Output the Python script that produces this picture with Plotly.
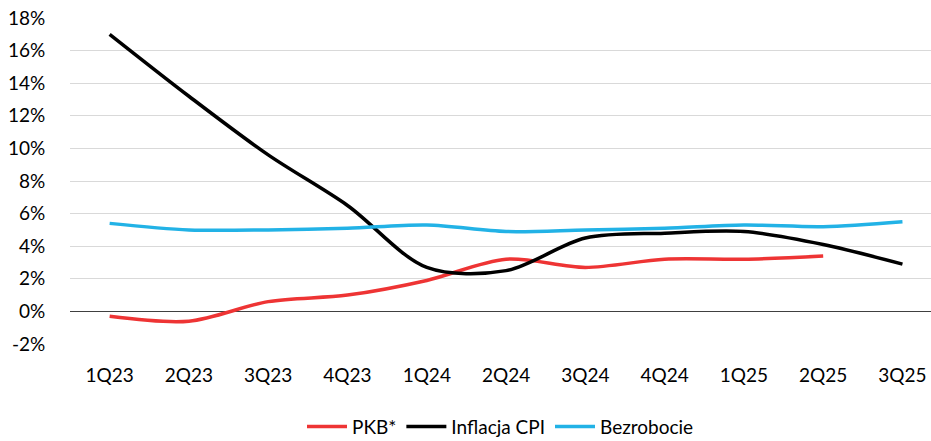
import plotly.graph_objects as go

categories = ["1Q23", "2Q23", "3Q23", "4Q23", "1Q24", "2Q24", "3Q24", "4Q24", "1Q25", "2Q25", "3Q25"]
pkb = [-0.3, -0.6, 0.6, 1.0, 1.9, 3.2, 2.7, 3.2, 3.2, 3.4, None]
inflacja = [17.0, 13.2, 9.6, 6.5, 2.7, 2.5, 4.5, 4.8, 4.9, 4.1, 2.9]
bezrobocie = [5.4, 5.0, 5.0, 5.1, 5.3, 4.9, 5.0, 5.1, 5.3, 5.2, 5.5]
y_ticks = [-2, 0, 2, 4, 6, 8, 10, 12, 14, 16, 18]
y_tick_labels = [f"{v}%" for v in y_ticks]

FONT = "Lato, 'Open Sans', sans-serif"

fig = go.Figure()
fig.add_trace(go.Scatter(x=categories, y=pkb, name="PKB*", mode="lines",
                         line=dict(color="#EE3434", width=3.5, shape="spline", smoothing=0.9)))
fig.add_trace(go.Scatter(x=categories, y=inflacja, name="Inflacja CPI", mode="lines",
                         line=dict(color="#000000", width=3.5, shape="spline", smoothing=0.9)))
fig.add_trace(go.Scatter(x=categories, y=bezrobocie, name="Bezrobocie", mode="lines",
                         line=dict(color="#22B2E6", width=3.5, shape="spline", smoothing=0.9)))

fig.update_layout(
    width=931, height=441,
    margin=dict(l=70, r=0, t=18, b=97, autoexpand=False),
    paper_bgcolor="white", plot_bgcolor="white",
    font=dict(family=FONT, size=19, color="#000000"),
    showlegend=True,
    legend=dict(orientation="h", x=0.5, xanchor="center", y=-0.195, yanchor="top",
                font=dict(size=19), tracegroupgap=0, itemwidth=40),
    xaxis=dict(type="category", range=[-0.5, 10.36], showgrid=False, showline=False,
               zeroline=False, ticks="outside", ticklen=14, tickcolor="rgba(0,0,0,0)",
               tickfont=dict(size=19)),
    yaxis=dict(range=[-2, 18], tickvals=y_ticks, ticktext=y_tick_labels,
               showgrid=True, gridcolor="#D9D9D9", gridwidth=1,
               zeroline=True, zerolinecolor="#404040", zerolinewidth=1.3,
               showline=False, ticks="outside", ticklen=20, tickcolor="rgba(0,0,0,0)",
               tickfont=dict(size=19)),
)

fig.write_html("out.html", config={"displayModeBar": False},
               post_script="document.body.style.margin='0px';document.body.style.overflow='hidden';")
